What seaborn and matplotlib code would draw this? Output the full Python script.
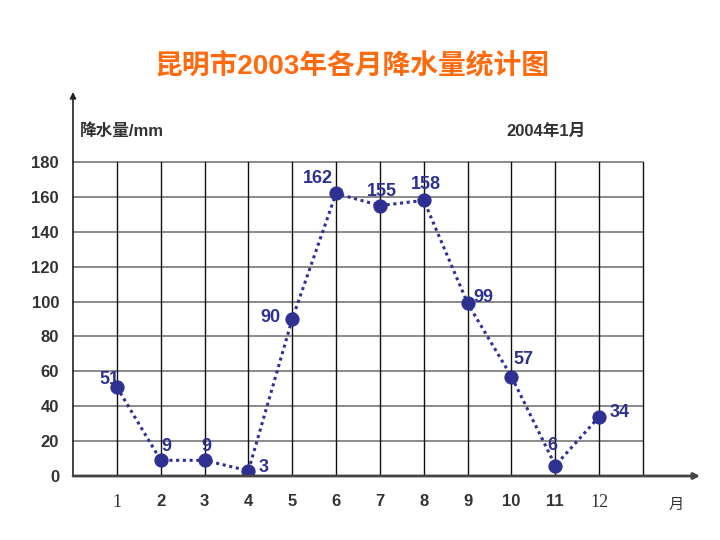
import matplotlib
matplotlib.use("Agg")
import matplotlib.pyplot as plt
import seaborn as sns
import pandas as pd

months = [1, 2, 3, 4, 5, 6, 7, 8, 9, 10, 11, 12]
rain = [51, 9, 9, 3, 90, 162, 155, 158, 99, 57, 6, 34]
month_labels = ["1", "2", "3", "4", "5", "6", "7", "8", "9", "10", "11", "12"]
yticks = [0, 20, 40, 60, 80, 100, 120, 140, 160, 180]
title = "昆明市2003年各月降水量统计图"
ylabel = "降水量/mm"
date_note = "2004年1月"
xunit = "月"

# label offsets in pixels (dx, dy)
offsets = [(-7, 8), (6, 14), (2, 14), (15, 3), (-22, 2), (-18, 15),
           (2, 14), (2, 16), (16, 6), (12, 17), (-3, 20), (20, 4)]

sns.set_theme(style="white")
plt.rcParams['font.family'] = ['Liberation Sans', 'Noto Sans CJK SC', 'DejaVu Sans']

df = pd.DataFrame({"month": months, "rain": rain})

fig = plt.figure(figsize=(7.2, 5.4), dpi=100)
W, H = 720, 540
left, right, bottom, top = 73, 643, 476, 162
ax = fig.add_axes([left / W, 1 - bottom / H, (right - left) / W, (bottom - top) / H])
ax.set_facecolor("white")

navy = "#2E3192"
# grid
for y in yticks[1:]:
    ax.axhline(y, color="#777777", lw=1.2, zorder=1, clip_on=False)
for x in range(1, 14):
    ax.axvline(x, color="#111111", lw=1.0, zorder=1, clip_on=False)

sns.lineplot(data=df, x="month", y="rain", ax=ax, color=navy, lw=2.2,
             linestyle=(0, (1, 1.2)), marker="o", markersize=9.5,
             markeredgecolor=navy, markerfacecolor=navy, zorder=3)

for m, v, (dx, dy) in zip(months, rain, offsets):
    ax.annotate(str(v), (m, v), xytext=(dx, dy), textcoords="offset pixels",
                ha="center", va="center", color=navy, fontsize=13,
                fontweight="bold", family=["Liberation Sans"])

ax.set_xlim(0, 13)
ax.set_ylim(0, 180)
for s in ax.spines.values():
    s.set_visible(False)

# axes with arrows
ax.annotate("", xy=(0, 180 + 70 * 180 / 314), xytext=(0, 0), xycoords="data",
            arrowprops=dict(arrowstyle="-|>", color="#222222", lw=1.2,
                            mutation_scale=9, shrinkA=0, shrinkB=0),
            annotation_clip=False)
ax.annotate("", xy=(13 + 57 * 13 / 570, 0), xytext=(0, 0), xycoords="data",
            arrowprops=dict(arrowstyle="-|>", color="#444444", lw=2.0,
                            mutation_scale=9, shrinkA=0, shrinkB=0),
            annotation_clip=False)

ax.set_yticks(yticks)
ax.set_yticklabels([str(t) for t in yticks], fontsize=12, fontweight="bold",
                   color="#333333")
ax.tick_params(axis="y", length=0, pad=10)
ax.set_xticks(months)
ax.set_xticklabels(month_labels, fontsize=12, fontweight="bold", color="#333333")
ax.tick_params(axis="x", length=0, pad=13)
for i, lab in enumerate(ax.get_xticklabels()):
    if i in (0, 11):
        lab.set_family(["Liberation Serif"])
        lab.set_fontweight("normal")
        lab.set_fontsize(13)
ax.set_xlabel("")
ax.set_ylabel("")

fig.text(352 / W, 1 - 66 / H, title, ha="center", va="center",
         fontsize=20, color="#FF6A0E", fontweight="bold",
         family=["Liberation Sans", "Noto Sans CJK SC"])
fig.text(80 / W, 1 - 131 / H, ylabel, ha="left", va="center",
         fontsize=12, color="#333333", fontweight="bold",
         family=["Liberation Sans", "Noto Sans CJK SC"])
fig.text(546 / W, 1 - 131 / H, date_note, ha="center", va="center",
         fontsize=12, color="#333333", fontweight="bold",
         family=["Liberation Sans", "Noto Sans CJK SC"])
fig.text(676 / W, 1 - 504 / H, xunit, ha="center", va="center",
         fontsize=11, color="#333333",
         family=["Noto Sans CJK SC"])

fig.savefig("out.png", dpi=100)
